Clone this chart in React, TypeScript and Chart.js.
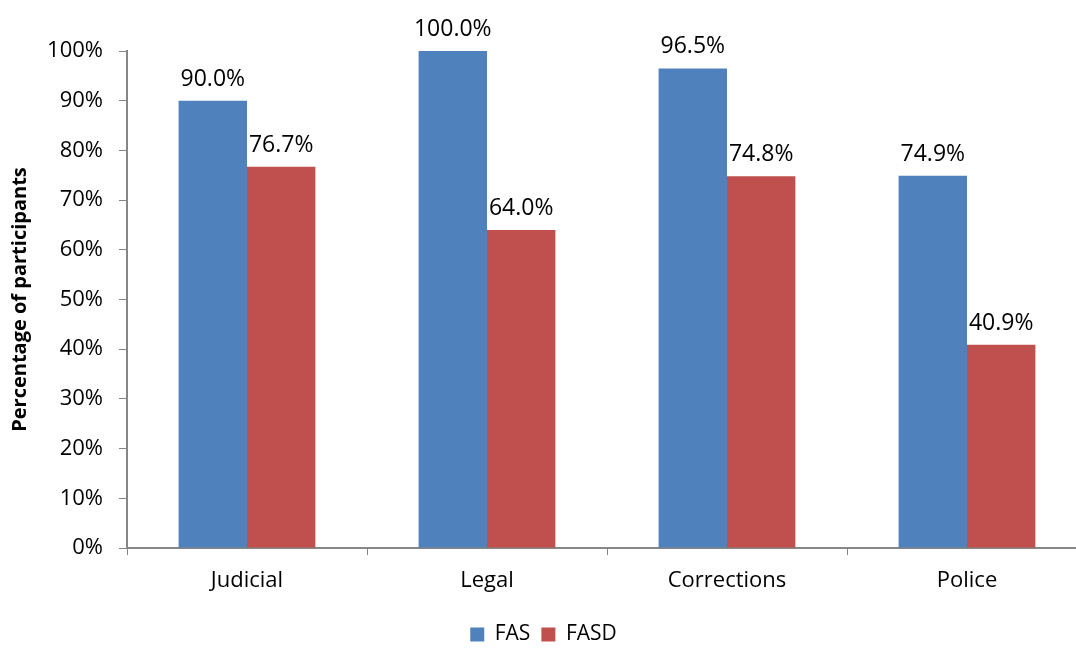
import React, { useEffect, useRef } from "react";
import { Chart, registerables } from "chart.js";

Chart.register(...registerables);

const categories = ["Judicial", "Legal", "Corrections", "Police"];
const fasValues = [90.0, 100.0, 96.5, 74.9];
const fasdValues = [76.7, 64.0, 74.8, 40.9];
const seriesNames = ["FAS", "FASD"];
const yTicks = [0, 10, 20, 30, 40, 50, 60, 70, 80, 90, 100];

const FONT = "'Open Sans', 'Noto Sans', sans-serif";

const dataLabelPlugin = {
  id: "dataLabels",
  afterDatasetsDraw(chart: any) {
    const ctx = chart.ctx;
    ctx.save();
    ctx.font = `23px ${FONT}`;
    ctx.fillStyle = "#000";
    ctx.textAlign = "center";
    ctx.textBaseline = "alphabetic";
    chart.data.datasets.forEach((ds: any, di: number) => {
      const meta = chart.getDatasetMeta(di);
      meta.data.forEach((bar: any, i: number) => {
        const v = ds.data[i];
        ctx.fillText(v.toFixed(1) + "%", bar.x, bar.y - 15);
      });
    });
    ctx.restore();
  },
};

export default function App() {
  const ref = useRef<HTMLCanvasElement | null>(null);
  useEffect(() => {
    if (!ref.current) return;
    const chart = new Chart(ref.current, {
      type: "bar",
      data: {
        labels: categories,
        datasets: [
          { label: seriesNames[0], data: fasValues, backgroundColor: "#4F81BD" },
          { label: seriesNames[1], data: fasdValues, backgroundColor: "#C0504D" },
        ],
      },
      plugins: [dataLabelPlugin],
      options: {
        animation: false,
        responsive: true,
        maintainAspectRatio: false,
        devicePixelRatio: 1,
        layout: { padding: { top: 51, right: 13, bottom: 0, left: 0 } },
        datasets: { bar: { categoryPercentage: 0.57, barPercentage: 1 } },
        plugins: {
          legend: {
            position: "bottom",
            labels: {
              boxWidth: 14,
              boxHeight: 14,
              padding: 11,
              color: "#000",
              font: { family: FONT, size: 21 },
            },
          },
          tooltip: { enabled: false },
        },
        scales: {
          x: {
            grid: {
              display: true,
              drawOnChartArea: false,
              drawTicks: true,
              tickLength: 7,
              color: "#868686",
              offset: true,
            },
            border: { color: "#868686", width: 2 },
            ticks: { color: "#000", padding: 13, font: { family: FONT, size: 22 } },
            afterFit: (scale: any) => {
              scale.height = 65;
            },
          },
          y: {
            min: 0,
            max: 100,
            afterBuildTicks: (scale: any) => {
              scale.ticks = yTicks.map((v) => ({ value: v }));
            },
            grid: {
              display: true,
              drawOnChartArea: false,
              drawTicks: true,
              tickLength: 8,
              color: "#868686",
            },
            border: { color: "#868686", width: 2 },
            ticks: {
              color: "#000",
              padding: 16,
              font: { family: FONT, size: 22 },
              callback: (v: any) => v + "%",
            },
            title: {
              display: true,
              text: "Percentage of participants",
              color: "#000",
              font: { family: FONT, size: 20, weight: "bold" },
              padding: { top: 8, bottom: 0 },
            },
            afterFit: (scale: any) => {
              scale.width = 127;
            },
          },
        },
      },
    } as any);
    return () => chart.destroy();
  }, []);
  return (
    <div style={{ position: "absolute", left: 0, top: 0, width: 1076, height: 649, overflow: "hidden", background: "#fff" }}>
      <div style={{ width: 1100, height: 655 }}>
        <canvas ref={ref} />
      </div>
    </div>
  );
}
